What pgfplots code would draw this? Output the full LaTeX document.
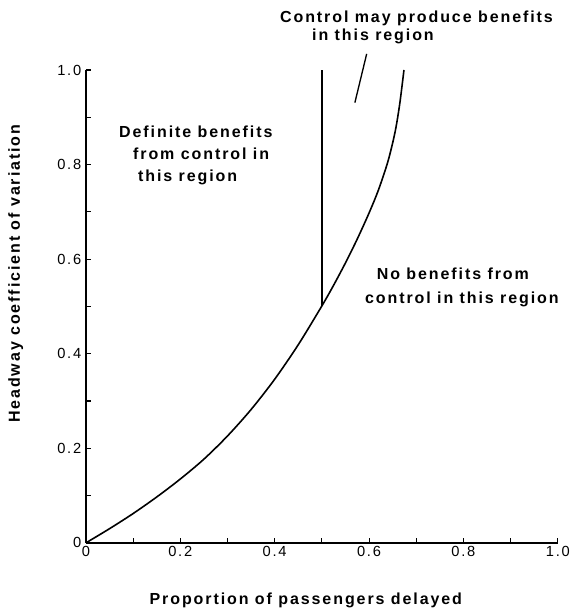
\documentclass[border=0pt]{standalone}
\usepackage{fontspec}
\setmainfont{Liberation Sans}[LetterSpace=12]
\usepackage{pgfplots}
\pgfplotsset{compat=1.18}
\begin{document}
\begin{tikzpicture}
\begin{axis}[
  scale only axis,
  width=354pt, height=354.75pt,
  xmin=0, xmax=1, ymin=0, ymax=1,
  axis lines=left,
  axis line style={-, line width=1pt},
  clip=false,
  xtick={0,0.2,0.4,0.6,0.8,1.0},
  xticklabels={0,0.2,0.4,0.6,0.8,1.0},
  ytick={0,0.2,0.4,0.6,0.8,1.0},
  yticklabels={0,0.2,0.4,0.6,0.8,1.0},
  minor tick num=1,
  tick align=inside,
  major tick length=3.5pt, minor tick length=3.5pt,
  tick style={line width=0.8pt, black},
  ticklabel style={font=\fontsize{11}{13}\selectfont},
  xticklabel style={yshift=1pt},
]
\addplot[line width=1.2pt, smooth, tension=0.5] coordinates {
 (0,0) (0.05,0.03) (0.1,0.062) (0.15,0.097) (0.2,0.135) (0.25,0.177)
 (0.3,0.226) (0.35,0.282) (0.4,0.346) (0.45,0.419) (0.5,0.501)
 (0.525,0.545) (0.55,0.592) (0.575,0.6425) (0.6,0.6975) (0.62,0.7465)
 (0.64,0.8065) (0.655,0.868) (0.665,0.928) (0.674,1.0)
};
\addplot[line width=1.2pt] coordinates {(0.5,0.5) (0.5,1.0)};
\addplot[line width=1pt] coordinates {(0.57,0.931) (0.595,1.034)};
\begin{scope}[every node/.style={inner sep=0pt, font=\bfseries\fontsize{12}{14}\selectfont}]
\node[anchor=base west] at (axis cs:0.070,0.858) {Definite benefits};
\node[anchor=base west] at (axis cs:0.0996,0.811) {from control in};
\node[anchor=base west] at (axis cs:0.110,0.765) {this region};
\node[anchor=base west] at (axis cs:0.616,0.5575) {No benefits from};
\node[anchor=base west] at (axis cs:0.591,0.507) {control in this region};
\node[anchor=base west] at (axis cs:0.411,1.100) {Control may produce benefits};
\node[anchor=base west] at (axis cs:0.479,1.062) {in this region};
\node[anchor=base] at (axis cs:0.466,-0.131) {Proportion of passengers delayed};
\node[anchor=base, rotate=90] at (axis cs:-0.140,0.569) {Headway coefficient of variation};
\end{scope}
\path (axis cs:-0.182,-0.144) rectangle (axis cs:1.032,1.148);
\end{axis}
\end{tikzpicture}
\end{document}
